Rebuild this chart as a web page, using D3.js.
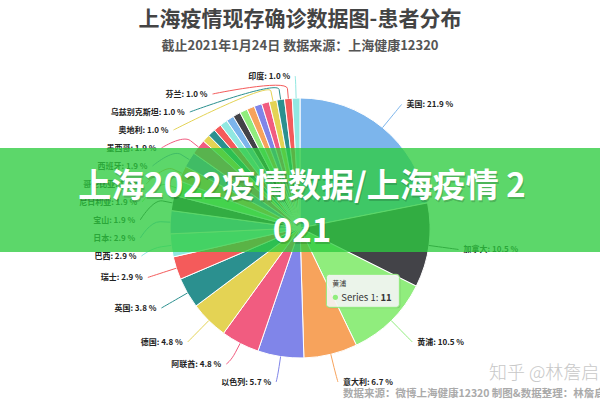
<!DOCTYPE html>
<html><head><meta charset="utf-8">
<script src="https://cdn.jsdelivr.net/npm/d3@7"></script>
<style>
html,body{margin:0;padding:0;background:#fff;}
svg{display:block;font-family:"Noto Sans CJK SC","Noto Sans",sans-serif;}
</style></head>
<body>
<svg id="c" width="600" height="400"></svg>
<script>
const categories = ["美国","加拿大","黄浦","意大利","以色列","阿联酋","德国","英国","瑞士","巴西","日本","宝山","尼日利亚","哥伦比亚","西班牙","墨西哥","韩国","法国","菲律宾","印尼","俄罗斯","澳大利亚","荷兰","比利时","瑞典","土耳其","奥地利","乌兹别克斯坦","芬兰","印度"];
const values = [23,11,11,7,6,5,5,4,3,3,3,2,2,2,2,2,1,1,1,1,1,1,1,1,1,1,1,1,1,1];
const hiddenLabels = ["韩国","法国","菲律宾","印尼","俄罗斯","澳大利亚","荷兰","比利时","瑞典","土耳其"];
const colors = ['#7cb5ec','#434348','#90ed7d','#f7a35c','#8085e9','#f15c80','#e4d354','#2b908f','#f45b5b','#91e8e1'];
const titleText = "上海疫情现存确诊数据图-患者分布";
const subtitleText = "截止2021年1月24日 数据来源：上海健康12320";
const bannerLines = ["上海2022疫情数据/上海疫情 2","021"];
const watermark = "知乎 @林詹启";
const footnote = "数据来源：微博上海健康12320 制图&数据整理：林詹启";
const tooltipPoint = "黄浦";
const seriesName = "Series 1";

(function(){
const svg = d3.select("#c");
const cx = 300, cy = 228, r = 130, dist = 30, R = r + dist;
const total = d3.sum(values);
const data = categories.map((c,i)=>({name:c, value:values[i], color:colors[i%colors.length]}));

// titles
svg.append("text").attr("x",300).attr("y",26).attr("text-anchor","middle")
  .attr("font-size",21).attr("font-weight","bold").attr("fill","#444").text(titleText);
svg.append("text").attr("x",300).attr("y",50).attr("text-anchor","middle")
  .attr("font-size",13).attr("font-weight","bold").attr("fill","#555").text(subtitleText);

const pie = d3.pie().sort(null).value(d=>d.value);
const arcs = pie(data);
const arc = d3.arc().innerRadius(0).outerRadius(r);
const g = svg.append("g").attr("transform",`translate(${cx},${cy})`);
g.selectAll("path.slice").data(arcs).join("path").attr("class","slice")
  .attr("d",arc).attr("fill",d=>d.data.color).attr("stroke","#fff").attr("stroke-width",1);

// labels with distribution
const labs = arcs.filter(a=>!hiddenLabels.includes(a.data.name)).map(a=>{
  const ang = (a.startAngle+a.endAngle)/2;
  return {a, ang, left: Math.sin(ang)<0, target: cy - R*Math.cos(ang)};
});
const spacing = 18, yTop = 76, yBottom = 382;
function distribute(items){
  items.sort((p,q)=>p.target-q.target);
  let groups = items.map(it=>({items:[it], sum:it.target}));
  const pos = gr => {
    const n = gr.items.length; let start = gr.sum/n - (n-1)*spacing/2;
    start = Math.max(yTop, Math.min(yBottom-(n-1)*spacing, start));
    return start;
  };
  let changed = true;
  while(changed){
    changed = false;
    for(let i=0;i<groups.length-1;i++){
      const g1 = groups[i], g2 = groups[i+1];
      const end1 = pos(g1) + (g1.items.length-1)*spacing;
      if(pos(g2) < end1 + spacing){
        groups.splice(i,2,{items:g1.items.concat(g2.items), sum:g1.sum+g2.sum});
        changed = true; break;
      }
    }
  }
  groups.forEach(gr=>{const s=pos(gr); gr.items.forEach((it,k)=>it.y=s+k*spacing);});
}
distribute(labs.filter(l=>l.left));
distribute(labs.filter(l=>!l.left));

labs.forEach(l=>{
  const sgn = l.left?-1:1;
  let lx;
  if (Math.abs(l.y - l.target) < 10) {
    lx = cx + R*Math.sin(l.ang);
  } else {
    const dy = Math.max(-1,Math.min(1,(l.y-cy)/R));
    lx = cx + sgn*Math.cos(Math.asin(dy))*R;
  }
  const p4 = [cx + r*Math.sin(l.ang), cy - r*Math.cos(l.ang)];
  const p2 = [cx + (r+10)*Math.sin(l.ang), cy - (r+10)*Math.cos(l.ang)];
  const c2 = [cx + (r+20)*Math.sin(l.ang), cy - (r+20)*Math.cos(l.ang)];
  const path = d3.path();
  path.moveTo(lx, l.y);
  path.bezierCurveTo(lx, l.y, c2[0], c2[1], p2[0], p2[1]);
  path.lineTo(p4[0], p4[1]);
  svg.append("path").attr("d",path.toString()).attr("fill","none")
    .attr("stroke",l.a.data.color).attr("stroke-width",1);
  svg.append("text").attr("x",lx + sgn*5).attr("y",l.y).attr("dy","0.35em")
    .attr("text-anchor",l.left?"end":"start").attr("font-size",8).attr("font-weight","bold")
    .attr("fill","#222").text(`${l.a.data.name}: ${(l.a.data.value/total*100).toFixed(1)} %`);
});

// tooltip
const tp = arcs.find(a=>a.data.name===tooltipPoint);
const tAng = (tp.startAngle+tp.endAngle)/2;
const tx = cx + 0.7*r*Math.sin(tAng), ty = cy - 0.7*r*Math.cos(tAng);
const tw = 73, th = 33;
const tg = svg.append("g").attr("transform",`translate(${tx-tw/2-1},${ty-th/2-2})`);
tg.append("rect").attr("x",1).attr("y",1).attr("width",tw).attr("height",th).attr("rx",3)
  .attr("fill","rgba(0,0,0,0.12)");
tg.append("rect").attr("width",tw).attr("height",th).attr("rx",3)
  .attr("fill","rgba(247,247,247,0.9)").attr("stroke",tp.data.color).attr("stroke-width",1);
tg.append("text").attr("x",6).attr("y",12).attr("font-size",7).attr("fill","#333").text(tp.data.name);
tg.append("circle").attr("cx",9).attr("cy",23).attr("r",2.6).attr("fill",tp.data.color);
const tt = tg.append("text").attr("x",15).attr("y",26.5).attr("font-size",9.5).attr("fill","#333");
tt.append("tspan").text(`${seriesName}: `);
tt.append("tspan").attr("font-weight","bold").text(tp.data.value);

// watermark & footnote
svg.append("text").attr("x",489).attr("y",379).attr("font-size",18).attr("fill","#c8c8c8")
  .attr("font-weight","300").text(watermark);
svg.append("text").attr("x",343).attr("y",397).attr("font-size",10.5).attr("fill","#aaa")
  .attr("font-weight","bold").text(footnote);

// banner overlay
svg.append("rect").attr("x",0).attr("y",148).attr("width",600).attr("height",104)
  .attr("fill","rgb(46,204,64)").attr("opacity",0.78);
const bt = svg.append("g");
bannerLines.forEach((t,i)=>{
  bt.append("text").attr("x",302).attr("y",197+i*45).attr("text-anchor","middle")
    .attr("font-size",33).attr("font-weight","bold").attr("fill","rgba(0,0,0,0.18)")
    .attr("transform","translate(1,1.5)").text(t);
  bt.append("text").attr("x",302).attr("y",197+i*45).attr("text-anchor","middle")
    .attr("font-size",33).attr("font-weight","bold").attr("fill","#fff").text(t);
});
})();
</script>
</body></html>
